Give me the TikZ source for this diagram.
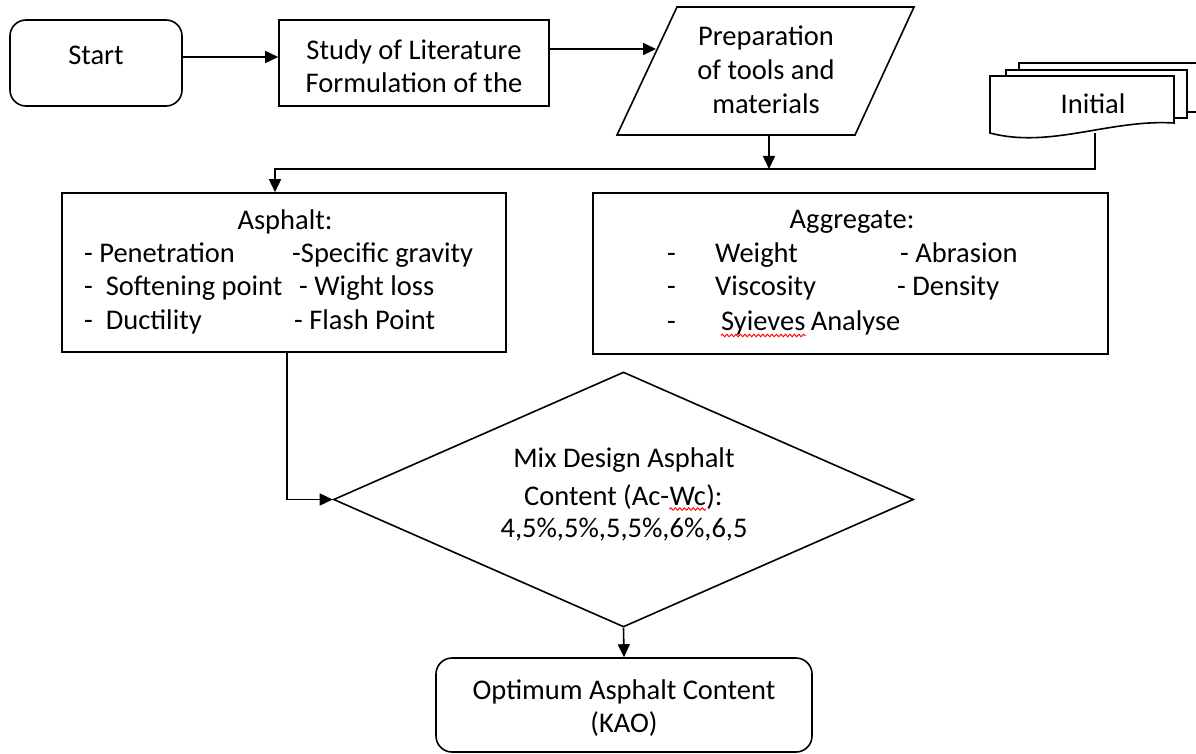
\documentclass[tikz,border=0pt]{standalone}
\usepackage{fontspec}
\setmainfont{Carlito}
\usetikzlibrary{arrows.meta,shapes.geometric,decorations.pathmorphing}
\begin{document}
\begin{tikzpicture}[x=1pt,y=-1pt,
  every node/.style={font=\fontsize{28.5}{33}\selectfont, inner sep=0pt},
  box/.style={draw=black, line width=1.6pt, fill=white},
  rbox/.style={box, rounded corners=16pt},
  item/.style={anchor=west, text height=20pt, text depth=5pt},
  arr/.style={line width=1.6pt, -{Triangle[length=13pt,width=12pt]}},
  conn/.style={line width=1.6pt},
  squig/.style={red, line width=0.9pt, decorate, decoration={snake, amplitude=1.3pt, segment length=4.5pt}}]
\useasboundingbox (0,0) rectangle (1196,754);
\fill[white] (0,0) rectangle (1196,754);

% Start
\node[rbox, minimum width=172pt, minimum height=86pt] (start) at (96,63) {};
\node (startlbl) at (96,55) {Start};

% Study
\node[box, minimum width=270pt, minimum height=86pt] (study) at (414,63) {};
\node[align=center] (studylbl) at (414,66) {Study of Literature\\Formulation of the};

% Preparation (parallelogram)
\draw[box] (677,7) -- (914,7) -- (855,135) -- (617,135) -- cycle;
\coordinate (pL) at (656,49);
\coordinate (pB) at (769,135);
\node[align=center, font=\fontsize{28.5}{34}\selectfont] (preplbl) at (766,70) {Preparation\\of tools and\\materials};

% Initial (multi-document)
\draw[box] (1019,63) -- (1215,63) -- (1215,112) -- (1019,112) -- cycle;
\draw[box] (1006,70) -- (1187,70) -- (1187,118) -- (1006,118) -- cycle;
\draw[box] (990,76) -- (1174,76) -- (1174,123) .. controls (1110,119) and (1050,149) .. (990,133) -- cycle;
\coordinate (docB) at (1095,133);
\node (doclbl) at (1093,104) {Initial};

% junction coordinates
\coordinate (jP) at (769,169);
\coordinate (jA) at (275,169);

% Asphalt box
\node[box, minimum width=444pt, minimum height=159pt] (asph) at (284,272.5) {};
\node (asphttl) at (285,222) {Asphalt:};
\node[item] (a1) at (84,255) {- Penetration};
\node[item] (a2) at (84,288) {- \ Softening point};
\node[item] (a3) at (84,322) {- \ Ductility};
\node[item] (a4) at (292,255) {-Specific gravity};
\node[item] (a5) at (299,288) {- Wight loss};
\node[item] (a6) at (294,322) {- Flash Point};

% Aggregate box
\node[box, minimum width=515pt, minimum height=161pt] (aggr) at (850.5,273.5) {};
\node (aggttl) at (852,222) {Aggregate:};
\node[item] (d1) at (667,255) {-};
\node[item] (d2) at (667,288) {-};
\node[item] (d3) at (667,323) {-};
\node[item] (g1) at (715,255) {Weight};
\node[item] (g2) at (715,288) {Viscosity};
\node[item] (syv) at (721,323) {Syieves};
\node[item, anchor=base west] (g3) at ([xshift=5pt]syv.base east) {Analyse};
\node[item] (g4) at (900,255) {- Abrasion};
\node[item] (g5) at (897,288) {- Density};
\draw[squig] ([yshift=-5pt]syv.base west) -- ([yshift=-5pt]syv.base east);

% Mix design diamond
\node[draw, diamond, line width=1.6pt, minimum width=580pt, minimum height=255pt, inner sep=0pt] (mix) at (623.5,499.5) {};
\node (m1) at (624,460) {Mix Design Asphalt};
\node[anchor=base west] (m2a) at (524,505) {Content (Ac-};
\node[anchor=base west] (wc) at (m2a.base east) {Wc};
\node[anchor=base west] (m2c) at (wc.base east) {):};
\node (m3) at (624,530) {4,5\%,5\%,5,5\%,6\%,6,5};
\draw[squig] ([yshift=-4pt]wc.base west) -- ([yshift=-4pt]wc.base east);

% KAO
\node[rbox, minimum width=376pt, minimum height=94pt] (kao) at (624,705) {};
\node[align=center] (kaolbl) at (624,708) {Optimum Asphalt Content\\(KAO)};

% connectors
\draw[arr] ([yshift=6pt]start.east) -- ([yshift=6pt]study.west);
\draw[arr] ([yshift=14pt]study.east) -- (pL);
\draw[arr] (pB) -- (jP);
\draw[arr] (docB) |- (jA) -- (jA |- asph.north);
\draw[arr] ([xshift=3pt]asph.south) |- (mix.west);
\draw[arr] (mix.south) -- (kao.north);
\end{tikzpicture}
\end{document}
